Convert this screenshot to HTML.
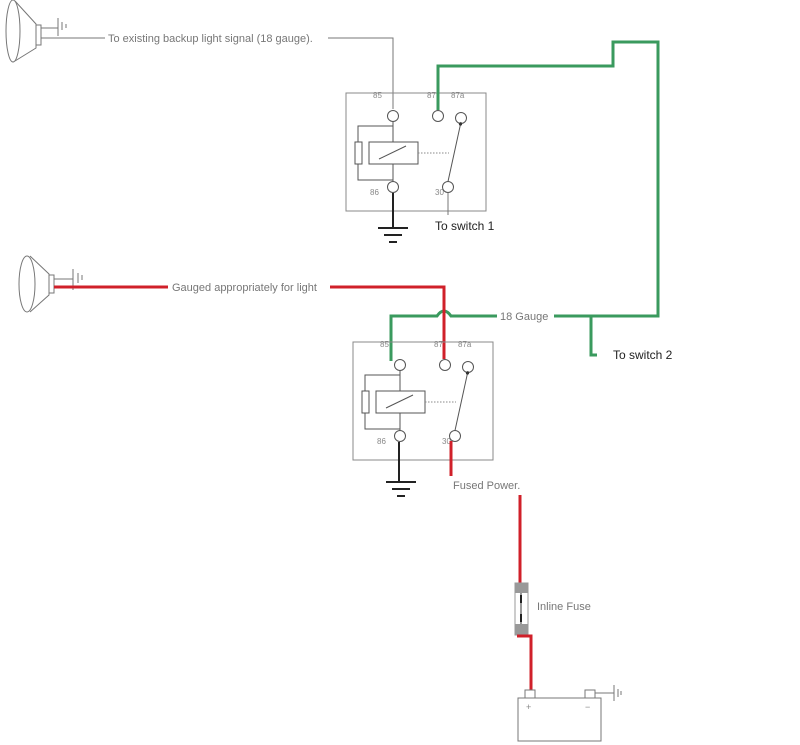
<!DOCTYPE html>
<html><head><meta charset="utf-8"><style>
html,body{margin:0;padding:0;background:#fff;}
svg{display:block;}
text{font-family:"Liberation Sans",sans-serif;}
</style></head><body>
<svg width="800" height="745" viewBox="0 0 800 745" xmlns="http://www.w3.org/2000/svg">
<defs>
<g id="relay">
  <rect x="0" y="0" width="140" height="118" fill="none" stroke="#888" stroke-width="1"/>
  <text x="27" y="5" font-size="8" fill="#888" font-family="Liberation Serif">85</text>
  <text x="81" y="5" font-size="8" fill="#888" font-family="Liberation Serif">87</text>
  <text x="105" y="5" font-size="8" fill="#888" font-family="Liberation Serif">87a</text>
  <text x="24" y="102" font-size="8" fill="#888" font-family="Liberation Serif">86</text>
  <text x="89" y="102" font-size="8" fill="#888" font-family="Liberation Serif">30</text>
  <g fill="#fff" stroke="#555" stroke-width="1">
    <circle cx="47" cy="23" r="5.5"/>
    <circle cx="92" cy="23" r="5.5"/>
    <circle cx="115" cy="25" r="5.5"/>
    <circle cx="47" cy="94" r="5.5"/>
    <circle cx="102" cy="94" r="5.5"/>
  </g>
  <g stroke="#555" stroke-width="1" fill="none">
    <path d="M47 28.5 V49 M47 71 V88.5"/>
    <path d="M47 33 H12 V49 M12 71 V87 H47"/>
    <rect x="23" y="49" width="49" height="22"/>
    <rect x="9" y="49" width="7" height="22"/>
    <path d="M33 66 L60 53"/>
    <path d="M102 88.5 L115 29"/>
  </g>
  <path d="M72 60 H103" stroke="#888" stroke-width="1" stroke-dasharray="1.5,1.5"/>
  <circle cx="114.5" cy="31" r="1.6" fill="#333"/>
</g>
<g id="gnd">
  <path d="M-15 0 H15 M-9 7 H9 M-4 14 H4" stroke="#222" stroke-width="2"/>
</g>
</defs>

<g stroke="#777" stroke-width="1" fill="none">
  <ellipse cx="13" cy="31" rx="7" ry="31"/>
  <path d="M15 1 L36 24 V48 L15 61"/>
  <rect x="36" y="25" width="5" height="20"/>
  <path d="M41 28 H58 M58 18 V36 M62 22 V30 M66 24 V28"/>
  <path d="M41 38 H105"/>
</g>
<text x="108" y="42" font-size="11" fill="#777">To existing backup light signal (18 gauge).</text>
<path d="M328 38 H393 V109" stroke="#777" stroke-width="1" fill="none"/>

<use href="#relay" transform="translate(346,93)"/>
<path d="M393 193 V228" stroke="#222" stroke-width="2"/>
<use href="#gnd" transform="translate(393,228)"/>
<path d="M448 193 V215" stroke="#777" stroke-width="1"/>
<text x="435" y="230" font-size="12" fill="#222">To switch 1</text>

<path d="M438 110 V66 H613 V42 H658 V316 H554" stroke="#3a9a5e" stroke-width="3" fill="none"/>
<path d="M497 316 H451 Q444 306 437 316 H391 V361" stroke="#3a9a5e" stroke-width="3" fill="none"/>
<text x="500" y="320" font-size="11" fill="#777">18 Gauge</text>
<path d="M591 316 V355 H597" stroke="#3a9a5e" stroke-width="3" fill="none"/>
<text x="613" y="359" font-size="12" fill="#222">To switch 2</text>

<g stroke="#777" stroke-width="1" fill="none">
  <ellipse cx="27" cy="284" rx="8" ry="28"/>
  <path d="M30 256 L49 274 V295 L30 312"/>
  <rect x="49" y="275" width="5" height="18"/>
  <path d="M54 279 H73 M73 269 V290 M78 273 V283 M82 275 V280"/>
</g>
<path d="M54 287 H168" stroke="#d0202a" stroke-width="3"/>
<text x="172" y="291" font-size="11" fill="#777">Gauged appropriately for light</text>
<path d="M330 287 H444 V359" stroke="#d0202a" stroke-width="3" fill="none"/>

<use href="#relay" transform="translate(353,342)"/>
<path d="M399 442 V481" stroke="#222" stroke-width="2"/>
<use href="#gnd" transform="translate(401,482)"/>
<path d="M451 441 V476" stroke="#d0202a" stroke-width="3"/>
<text x="453" y="489" font-size="11" fill="#777">Fused Power.</text>

<path d="M520 495 V584" stroke="#d0202a" stroke-width="3"/>
<rect x="515" y="583" width="13" height="52" fill="#fff" stroke="#999" stroke-width="1"/>
<rect x="515" y="583" width="13" height="10" fill="#999"/>
<rect x="515" y="624" width="13" height="11" fill="#999"/>
<path d="M521 593 V624" stroke="#333" stroke-width="1"/>
<path d="M521 595 V603 M521 614 V622" stroke="#222" stroke-width="2"/>
<text x="537" y="610" font-size="11" fill="#777">Inline Fuse</text>
<path d="M517 636 H531 V691" stroke="#d0202a" stroke-width="3" fill="none"/>
<g stroke="#777" stroke-width="1" fill="#fff">
  <rect x="525" y="690" width="10" height="9"/>
  <rect x="585" y="690" width="10" height="9"/>
  <rect x="518" y="698" width="83" height="43"/>
</g>
<text x="526" y="710" font-size="9" fill="#888">+</text>
<text x="585" y="710" font-size="9" fill="#888">−</text>
<path d="M595 693 H614 M614 685 V701 M618 689 V697 M621 691 V695" stroke="#777" stroke-width="1" fill="none"/>
</svg>
</body></html>
